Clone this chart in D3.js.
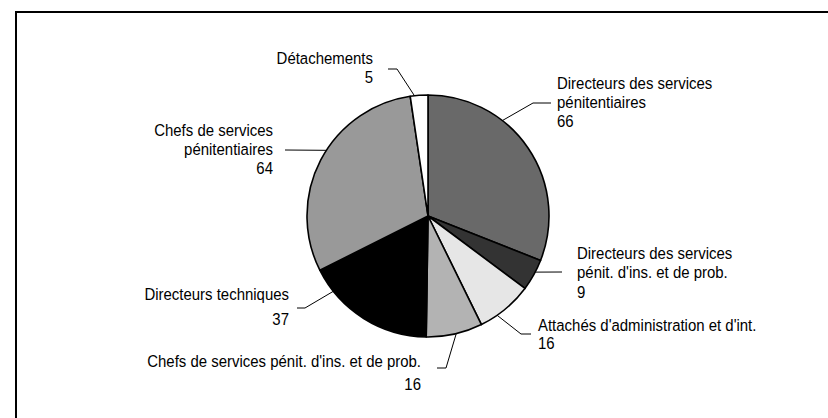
<!DOCTYPE html>
<html>
<head>
<meta charset="utf-8">
<script src="https://cdn.jsdelivr.net/npm/d3@7"></script>
<style>
  body { margin: 0; background: #fff; }
  svg text { font-family: "Liberation Sans", Arial, sans-serif; font-size: 17px; fill: #000; }
</style>
</head>
<body>
<div id="chart"></div>
<script>
// chart data
const categories = [
    ["Directeurs des services", "pénitentiaires"],
    ["Directeurs des services", "pénit. d'ins. et de prob."],
    ["Attachés d'administration et d'int."],
    ["Chefs de services pénit. d'ins. et de prob."],
    ["Directeurs techniques"],
    ["Chefs de services", "pénitentiaires"],
    ["Détachements"]
];
const values = [66, 9, 16, 16, 37, 64, 5];
const colors = ["#696969", "#333333", "#e6e6e6", "#b3b3b3", "#000000", "#999999", "#ffffff"];

// label placement (hand placed, like the original)
const labelLayout = [
    { x: 557, y: 83,  gap: 19, align: "start", anchor: 0.34, elbow: [533, 103], end: [551, 103] },
    { x: 577, y: 253, gap: 19.5, align: "start", anchor: 0.40, elbow: [562, 272], end: [562, 272] },
    { x: 538, y: 325, gap: 18, align: "start", anchor: 0.68, elbow: [521, 334], end: [531, 334] },
    { x: 421, y: 361, gap: 23, align: "end",   anchor: 0.47, elbow: [446, 368], end: [437, 368] },
    { x: 289, y: 294, gap: 25, align: "end",   anchor: 0.81, elbow: [305, 308], end: [297, 308] },
    { x: 273, y: 130, gap: 19, align: "end",   anchor: 0.55, elbow: [285, 150], end: [285, 150] },
    { x: 373, y: 58,  gap: 19, align: "end",   anchor: 0.24, elbow: [397, 69],  end: [388, 69] }
];

const width = 828, height = 418;
const cx = 428, cy = 216, radius = 121;
const narrow = 0.88; // the original uses a condensed face

const svg = d3.select("#chart").append("svg")
    .attr("width", width)
    .attr("height", height);

// frame (only top and left edges show in the picture)
svg.append("rect")
    .attr("x", 16).attr("y", 12)
    .attr("width", 1000).attr("height", 1000)
    .attr("fill", "none")
    .attr("stroke", "#000")
    .attr("stroke-width", 2);

const pie = d3.pie().sort(null).value(d => d);
const arcs = pie(values);
const arc = d3.arc().innerRadius(0).outerRadius(radius);

const g = svg.append("g").attr("transform", `translate(${cx},${cy})`);

g.selectAll(".slice")
    .data(arcs)
    .enter().append("path")
    .attr("class", "slice")
    .attr("d", arc)
    .attr("fill", (d, i) => colors[i])
    .attr("stroke", "#000")
    .attr("stroke-width", 1.6)
    .attr("stroke-linejoin", "round");

// leader lines
arcs.forEach((d, i) => {
    const lay = labelLayout[i];
    const a = d.startAngle + (d.endAngle - d.startAngle) * lay.anchor;
    const start = [cx + radius * Math.sin(a), cy - radius * Math.cos(a)];
    svg.append("path")
        .attr("d", d3.line()([start, lay.elbow, lay.end]))
        .attr("fill", "none")
        .attr("stroke", "#000")
        .attr("stroke-width", 1);
});

// labels
arcs.forEach((d, i) => {
    const lay = labelLayout[i];
    const lines = categories[i].concat([String(values[i])]);
    const t = svg.append("text")
        .attr("transform", `translate(${lay.x},0) scale(${narrow},1)`)
        .attr("text-anchor", lay.align);
    lines.forEach((line, j) => {
        t.append("tspan")
            .attr("x", 0)
            .attr("y", lay.y + j * lay.gap)
            .attr("dy", "0.35em")
            .text(line);
    });
});
</script>
</body>
</html>
